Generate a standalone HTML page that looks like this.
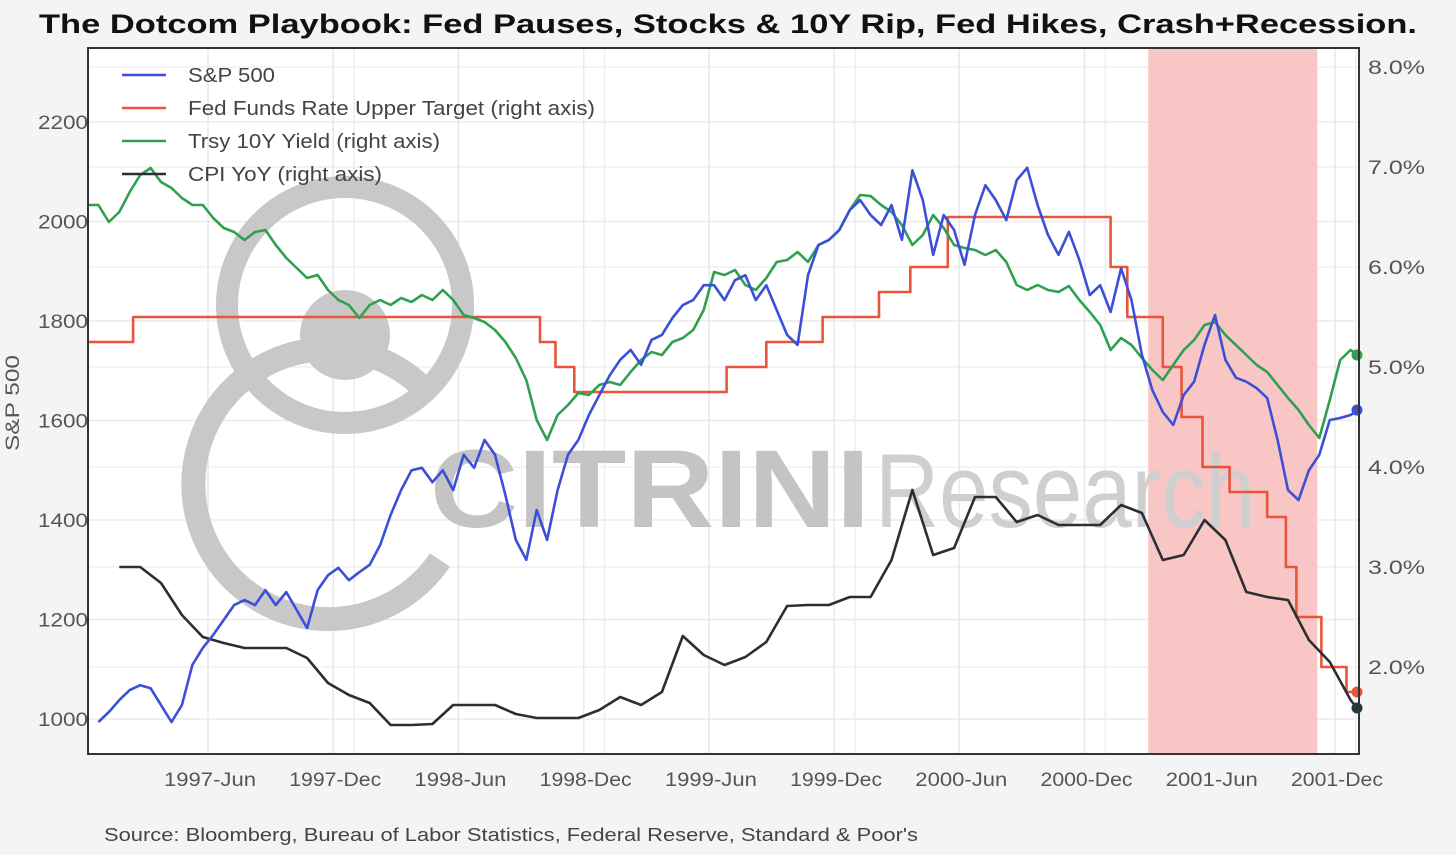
<!DOCTYPE html>
<html><head><meta charset="utf-8">
<style>
html,body{margin:0;padding:0;background:#f4f4f4;}
body{width:1456px;height:855px;overflow:hidden;font-family:"Liberation Sans",sans-serif;}
svg{display:block;}
</style></head>
<body>
<svg id="chart" width="1456" height="855">
<rect x="0" y="0" width="1456" height="855" fill="#f4f4f4"/>
<text x="728" y="33" text-anchor="middle" font-size="27" font-weight="bold" fill="#111" textLength="1378" lengthAdjust="spacingAndGlyphs">The Dotcom Playbook: Fed Pauses, Stocks &amp; 10Y Rip, Fed Hikes, Crash+Recession.</text>
<rect x="88" y="48" width="1271" height="706" fill="#ffffff"/>
<g id="grid"></g>
<g id="recession"></g>
<g id="watermark">
<circle cx="345" cy="305" r="118" fill="none" stroke="#c8c8c8" stroke-width="22"/>
<circle cx="345" cy="335" r="45" fill="#c8c8c8"/>
<path d="M 420 385 A 135 135 0 1 0 440 560" fill="none" stroke="#c8c8c8" stroke-width="24"/>
<text x="430" y="527" font-size="110" font-weight="bold" fill="#c4c4c4" textLength="440" lengthAdjust="spacingAndGlyphs">CITRINI</text>
<text x="875" y="527" font-size="105" fill="#cfcfcf" textLength="380" lengthAdjust="spacingAndGlyphs">Research</text>
</g>
<g id="series"></g>
<rect x="88" y="48" width="1271" height="706" fill="none" stroke="#333" stroke-width="2"/>
<g id="axes"></g>
<g id="legend"></g>
<text x="19" y="403" transform="rotate(-90 19 403)" text-anchor="middle" font-size="19" fill="#555" textLength="96" lengthAdjust="spacingAndGlyphs">S&amp;P 500</text>
<text x="104" y="841" font-size="18" fill="#444" textLength="814" lengthAdjust="spacingAndGlyphs">Source: Bloomberg, Bureau of Labor Statistics, Federal Reserve, Standard &amp; Poor's</text>
</svg>
<script>
// ---- data (time in months since 1997-Jan start) ----
const xTickLabels = ["1997-Jun","1997-Dec","1998-Jun","1998-Dec","1999-Jun","1999-Dec","2000-Jun","2000-Dec","2001-Jun","2001-Dec"];
const xTickMonths = [5.75,11.75,17.75,23.75,29.75,35.75,41.75,47.75,53.75,59.75];
const leftTicks = [1000,1200,1400,1600,1800,2000,2200];
const rightTicks = [2,3,4,5,6,7,8];
const rightTickLabels = ["2.0%","3.0%","4.0%","5.0%","6.0%","7.0%","8.0%"];
const halfMonthStep = 0.5;
const spxStartMonth = 0.5;
const spx = [994,1014,1038,1058,1068,1062,1028,994,1028,1109,1143,1169,1199,1229,1239,1229,1259,1229,1255,1219,1183,1259,1289,1304,1279,1295,1310,1350,1410,1460,1500,1505,1476,1500,1460,1531,1505,1561,1531,1450,1360,1320,1420,1360,1460,1531,1561,1611,1651,1691,1722,1742,1712,1762,1772,1806,1832,1842,1872,1872,1842,1882,1892,1842,1872,1822,1772,1752,1892,1953,1963,1983,2023,2043,2013,1993,2033,1963,2103,2043,1933,2013,1983,1913,2013,2073,2043,2003,2083,2108,2033,1973,1933,1979,1923,1852,1872,1818,1906,1842,1732,1661,1617,1591,1651,1678,1752,1812,1722,1686,1678,1665,1645,1561,1460,1440,1500,1531,1601,1605,1611,1621];
const tsyStartMonth = 0;
const tsy10 = [6.62,6.62,6.45,6.55,6.75,6.92,6.99,6.85,6.79,6.69,6.62,6.62,6.49,6.39,6.35,6.27,6.35,6.37,6.22,6.09,5.99,5.89,5.92,5.77,5.67,5.62,5.49,5.62,5.67,5.62,5.69,5.65,5.72,5.67,5.77,5.67,5.52,5.49,5.45,5.37,5.25,5.09,4.87,4.47,4.27,4.52,4.62,4.74,4.72,4.82,4.85,4.82,4.95,5.07,5.15,5.12,5.25,5.29,5.37,5.57,5.95,5.92,5.97,5.82,5.77,5.89,6.05,6.07,6.15,6.05,6.22,6.27,6.37,6.57,6.72,6.71,6.62,6.55,6.42,6.22,6.32,6.52,6.39,6.22,6.19,6.17,6.12,6.17,6.05,5.82,5.77,5.82,5.77,5.75,5.81,5.67,5.55,5.42,5.17,5.29,5.22,5.09,4.97,4.87,5.02,5.17,5.27,5.42,5.45,5.32,5.22,5.12,5.02,4.95,4.82,4.69,4.57,4.42,4.29,4.67,5.07,5.17,5.12];
const cpiStartMonth = 1.5;
const cpi = [3.00,3.00,2.84,2.52,2.30,2.24,2.19,2.19,2.19,2.09,1.84,1.72,1.64,1.42,1.42,1.43,1.62,1.62,1.62,1.53,1.49,1.49,1.49,1.57,1.70,1.62,1.75,2.31,2.12,2.02,2.10,2.25,2.61,2.62,2.62,2.70,2.70,3.07,3.77,3.12,3.19,3.70,3.70,3.45,3.52,3.42,3.42,3.42,3.62,3.54,3.07,3.12,3.47,3.27,2.75,2.70,2.67,2.27,2.05,1.67,1.59];
const fedMonths = [0,2.16,21.66,22.4,23.3,30.6,32.5,35.2,37.9,39.4,41.2,49.0,49.8,51.5,52.4,53.4,54.7,56.5,57.4,57.9,59.1,60.3];
const fedRates  = [5.25,5.5,5.25,5.0,4.75,5.0,5.25,5.5,5.75,6.0,6.5,6.0,5.5,5.0,4.5,4.0,3.75,3.5,3.0,2.5,2.0,1.75];
const endMonth = 60.9;
const recession = [50.8, 58.9];

// ---- scales ----
const X0=88, XPM=20.87;
const xS = m => X0 + m*XPM;
const yL = v => 719 - (v-1000)*99.5/200;
const yR = v => 667 - (v-2)*100;
const NS="http://www.w3.org/2000/svg";
function mk(tag, attrs, parent){const e=document.createElementNS(NS,tag);for(const k in attrs)e.setAttribute(k,attrs[k]);parent.appendChild(e);return e;}
const grid=document.getElementById('grid'), rec=document.getElementById('recession'), ser=document.getElementById('series'), axes=document.getElementById('axes'), leg=document.getElementById('legend');

// grid
leftTicks.forEach(v=>{const l=mk('line',{x1:88,x2:1359,y1:yL(v),y2:yL(v),stroke:'#ececec','stroke-width':1.5},grid);

});
rightTicks.forEach(v=>{const l=mk('line',{x1:88,x2:1359,y1:yR(v),y2:yR(v),stroke:'#f0f0f0','stroke-width':1.5},grid);

});
xTickMonths.forEach((m,i)=>{const l=mk('line',{x1:xS(m),x2:xS(m),y1:48,y2:754,stroke:'#e8e8e8','stroke-width':1.5},grid);


if(i%2===1){const l2=mk('line',{x1:xS(m+1),x2:xS(m+1),y1:48,y2:754,stroke:'#eeeeee','stroke-width':1.5},grid);

}});

// recession
const rr=mk('rect',{x:xS(recession[0]),y:48,width:xS(recession[1])-xS(recession[0]),height:706,fill:'#f9c6c6'},rec);



function poly(pts,color,name){const p=mk('polyline',{points:pts.map(q=>q[0].toFixed(1)+','+q[1].toFixed(1)).join(' '),fill:'none',stroke:color,'stroke-width':2.6,'stroke-linejoin':'round'},ser);

return p;}
// Fed funds step
const fedPts=[];
fedMonths.forEach((m,i)=>{ if(i>0) fedPts.push([xS(m),yR(fedRates[i-1])]); fedPts.push([xS(m),yR(fedRates[i])]); });
fedPts.push([xS(endMonth),yR(fedRates[fedRates.length-1])]);
poly(fedPts,'#e8553a','fed-funds-line');
poly(tsy10.map((v,i)=>[Math.min(xS(tsyStartMonth+i*halfMonthStep),1358),yR(v)]),'#2ea04f','treasury-10y-line');
poly(cpi.map((v,i)=>[Math.min(xS(cpiStartMonth+i),1357),yR(v)]),'#2a2f35','cpi-line');
poly(spx.map((v,i)=>[Math.min(xS(spxStartMonth+i*halfMonthStep),1358),yL(v)]),'#3b4fd8','sp500-line');
// end dots
[[yR(fedRates[fedRates.length-1]),'#e8553a','fed-end-dot'],[yR(cpi[cpi.length-1]),'#1f3a3f','cpi-end-dot'],[yR(tsy10[tsy10.length-1]),'#2ea04f','tsy-end-dot'],[yL(spx[spx.length-1]),'#3b4fd8','sp500-end-dot']].forEach(d=>{
const c=mk('circle',{cx:1357,cy:d[0],r:5.5,fill:d[1]},ser);

});

// axes labels
leftTicks.forEach(v=>{const t=mk('text',{x:88,y:yL(v)+7,'text-anchor':'end','font-size':19,fill:'#555',textLength:50,lengthAdjust:'spacingAndGlyphs'},axes);t.textContent=v;

});
rightTicks.forEach((v,i)=>{const t=mk('text',{x:1368,y:yR(v)+7,'font-size':19,fill:'#555',textLength:57,lengthAdjust:'spacingAndGlyphs'},axes);t.textContent=rightTickLabels[i];

});
xTickMonths.forEach((m,i)=>{const t=mk('text',{x:xS(m)+2,y:786,'text-anchor':'middle','font-size':19,fill:'#555',textLength:92,lengthAdjust:'spacingAndGlyphs'},axes);t.textContent=xTickLabels[i];

});

// legend
const legNames=["S&P 500","Fed Funds Rate Upper Target (right axis)","Trsy 10Y Yield (right axis)","CPI YoY (right axis)"];
const legWidths=[87,407,252,194];
const legColors=['#3b4fd8','#e8553a','#2ea04f','#2a2f35'];
legNames.forEach((n,i)=>{const y=75+i*33;
const l=mk('line',{x1:122,x2:166,y1:y,y2:y,stroke:legColors[i],'stroke-width':2.6},leg);


const t=mk('text',{x:188,y:y+7,'font-size':20,fill:'#444',textLength:legWidths[i],lengthAdjust:'spacingAndGlyphs'},leg);t.textContent=n;

});
</script>
</body></html>
